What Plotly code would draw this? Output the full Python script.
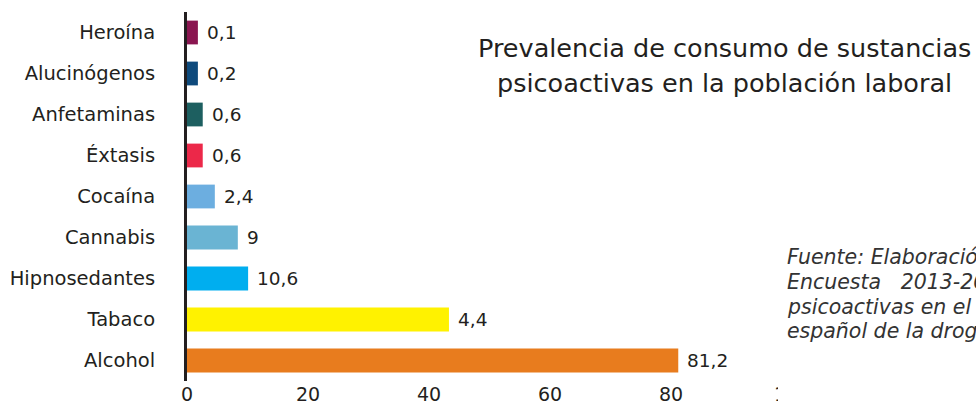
import plotly.graph_objects as go

categories = ["Heroína", "Alucinógenos", "Anfetaminas", "Éxtasis", "Cocaína",
              "Cannabis", "Hipnosedantes", "Tabaco", "Alcohol"]
bar_lengths = [1.8, 1.8, 2.6, 2.6, 4.6, 8.4, 10.1, 43.3, 81.2]
value_labels = ["0,1", "0,2", "0,6", "0,6", "2,4", "9", "10,6", "4,4", "81,2"]
colors = ["#8a1550", "#0e4a7c", "#1d5f60", "#ec2849", "#6caee0",
          "#6ab4d3", "#00aeef", "#fff200", "#e87c1e"]
x_ticks = [0, 20, 40, 60, 80, 100]

title_lines = ["Prevalencia de consumo de sustancias",
               "psicoactivas en la población laboral"]
source_lines = ["Fuente: Elaboración propia a partir de la",
                "Encuesta\u00a0\u00a0 2013-2014 sobre consumo de sustancias",
                "psicoactivas en el ámbito laboral en España.",
                "español de la droga y las toxicomanías"]

FONT = "DejaVu Sans"
TXT = "#231f20"

W, H = 976, 409
L, R, T, B = 187, 184, 12, 28
pw, ph = W - L - R, H - T - B

fig = go.Figure()
fig.add_trace(go.Bar(
    x=bar_lengths, y=categories, orientation="h",
    marker=dict(color=colors, line=dict(width=0)),
    hoverinfo="skip", showlegend=False,
))

annotations = []
for cat, v, lab in zip(categories, bar_lengths, value_labels):
    annotations.append(dict(
        x=v, y=cat, xref="x", yref="y", text=lab, showarrow=False,
        xanchor="left", yanchor="middle", xshift=7,
        font=dict(family=FONT, size=18.5, color=TXT),
    ))

def px_x(p):
    return (p - L) / pw

def px_y(p):
    return (H - B - p) / ph

for line, yc in zip(title_lines, [48, 83]):
    annotations.append(dict(
        x=px_x(724), y=px_y(yc), xref="paper", yref="paper", text=line,
        showarrow=False, xanchor="center", yanchor="middle",
        font=dict(family=FONT, size=25.5, color=TXT),
    ))

for line, yc in zip(source_lines, [257, 282, 307, 331]):
    annotations.append(dict(
        x=px_x(785), y=px_y(yc), xref="paper", yref="paper",
        text=line, showarrow=False,
        xanchor="left", yanchor="middle", align="left",
        font=dict(family=FONT, size=20.5, color="#333333", style="italic"),
    ))

fig.update_layout(
    width=W, height=H,
    margin=dict(l=L, r=R, t=T, b=B, pad=0, autoexpand=False),
    paper_bgcolor="white", plot_bgcolor="white",
    bargap=0.42,
    annotations=annotations,
    shapes=[dict(type="rect", xref="paper", yref="paper",
                 x0=px_x(778), x1=px_x(W + 50), y0=px_y(H + 10), y1=px_y(384),
                 fillcolor="white", line=dict(width=0), layer="above")],
    xaxis=dict(range=[0, 100], tickvals=x_ticks, showgrid=False, zeroline=False,
               showline=False, ticks="", automargin=False,
               tickfont=dict(family=FONT, size=19, color=TXT)),
    yaxis=dict(autorange="reversed", showgrid=False, zeroline=False,
               showline=True, linecolor="#231f20", linewidth=3, ticks="",
               ticklabelstandoff=25, automargin=False,
               tickfont=dict(family=FONT, size=19.5, color=TXT)),
)

fig.write_html(
    "out.html",
    config={"displayModeBar": False},
    post_script="document.body.style.margin='0';document.body.style.overflow='hidden';",
)
